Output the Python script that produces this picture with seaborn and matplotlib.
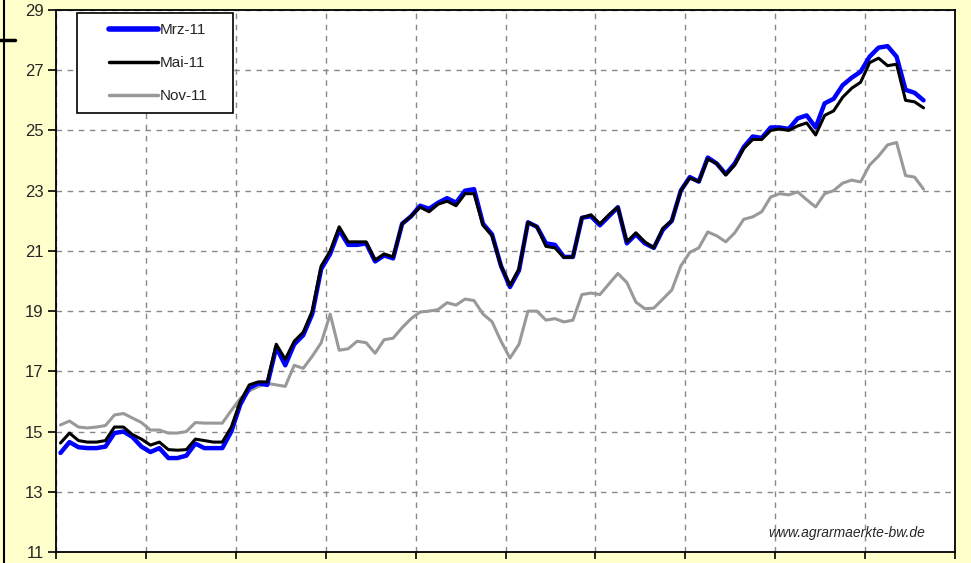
import numpy as np
import pandas as pd
import matplotlib
matplotlib.use("Agg")
import matplotlib.pyplot as plt
from matplotlib.patches import Rectangle
from matplotlib.lines import Line2D
import seaborn as sns

# Kursverlauf der drei Kontrakte, ein Wert je Rasterschritt
mrz_11 = [14.29, 14.65, 14.48, 14.45, 14.45, 14.50, 14.95, 15.00, 14.82, 14.50,
          14.32, 14.45, 14.12, 14.12, 14.20, 14.60, 14.45, 14.45, 14.45, 15.00,
          15.90, 16.45, 16.60, 16.55, 17.80, 17.20, 17.90, 18.20, 18.90, 20.40,
          20.90, 21.70, 21.20, 21.20, 21.25, 20.65, 20.85, 20.75, 21.90, 22.15,
          22.50, 22.40, 22.60, 22.75, 22.60, 23.00, 23.05, 21.90, 21.55, 20.50,
          19.80, 20.35, 21.95, 21.80, 21.25, 21.20, 20.80, 20.80, 22.10, 22.15,
          21.85, 22.15, 22.45, 21.25, 21.55, 21.25, 21.10, 21.70, 22.00, 23.00,
          23.45, 23.30, 24.10, 23.90, 23.55, 23.90, 24.45, 24.80, 24.75, 25.10,
          25.10, 25.05, 25.40, 25.50, 25.10, 25.90, 26.05, 26.50, 26.75, 26.95,
          27.45, 27.75, 27.80, 27.45, 26.35, 26.25, 26.00]

mai_11 = [14.62, 14.95, 14.70, 14.65, 14.65, 14.70, 15.15, 15.15, 14.90, 14.75,
          14.55, 14.65, 14.40, 14.38, 14.40, 14.75, 14.70, 14.65, 14.65, 15.15,
          16.00, 16.55, 16.65, 16.65, 17.90, 17.40, 18.00, 18.30, 19.00, 20.50,
          21.00, 21.80, 21.30, 21.30, 21.30, 20.70, 20.90, 20.80, 21.90, 22.15,
          22.45, 22.30, 22.55, 22.65, 22.50, 22.90, 22.90, 21.85, 21.50, 20.50,
          19.85, 20.40, 21.95, 21.80, 21.15, 21.10, 20.78, 20.80, 22.10, 22.20,
          21.90, 22.20, 22.45, 21.30, 21.60, 21.30, 21.10, 21.75, 22.00, 23.00,
          23.42, 23.30, 24.05, 23.90, 23.52, 23.85, 24.40, 24.70, 24.70, 25.00,
          25.05, 25.00, 25.15, 25.25, 24.85, 25.50, 25.65, 26.10, 26.40, 26.60,
          27.25, 27.40, 27.15, 27.20, 26.00, 25.95, 25.75]

nov_11 = [15.22, 15.35, 15.15, 15.12, 15.15, 15.20, 15.55, 15.60, 15.45, 15.30,
          15.05, 15.05, 14.95, 14.95, 15.00, 15.30, 15.28, 15.28, 15.28, 15.70,
          16.10, 16.35, 16.50, 16.60, 16.55, 16.50, 17.20, 17.10, 17.50, 17.95,
          18.90, 17.70, 17.75, 18.00, 17.95, 17.60, 18.05, 18.10, 18.45, 18.75,
          18.97, 19.00, 19.05, 19.28, 19.20, 19.40, 19.35, 18.90, 18.65, 18.00,
          17.44, 17.90, 19.00, 19.00, 18.70, 18.75, 18.64, 18.70, 19.55, 19.60,
          19.55, 19.90, 20.25, 19.95, 19.30, 19.08, 19.10, 19.40, 19.70, 20.50,
          20.95, 21.10, 21.63, 21.50, 21.30, 21.60, 22.05, 22.13, 22.30, 22.79,
          22.90, 22.86, 22.96, 22.70, 22.46, 22.90, 23.00, 23.25, 23.35, 23.29,
          23.85, 24.15, 24.52, 24.60, 23.50, 23.45, 23.05]

labels = ["Mrz-11", "Mai-11", "Nov-11"]
y_ticks = [11, 13, 15, 17, 19, 21, 23, 25, 27, 29]
quelle = "www.agrarmaerkte-bw.de"

tag = np.arange(len(mai_11)) + 0.5
df = pd.DataFrame({"tag": tag, "Mrz-11": mrz_11, "Mai-11": mai_11, "Nov-11": nov_11})

sns.set_theme(style="white")
plt.rcParams["font.family"] = ["Liberation Sans", "DejaVu Sans"]

fig = plt.figure(figsize=(9.71, 5.63), dpi=100, facecolor="#FFFFCC")
ax = fig.add_axes([56 / 971, 11 / 563, 899 / 971, 542 / 563])
ax.set_facecolor("white")

styles = {"Nov-11": ("#999999", 2.2), "Mrz-11": ("#0000FF", 3.2), "Mai-11": ("black", 2.2)}
for name in ["Nov-11", "Mrz-11", "Mai-11"]:
    col, lw = styles[name]
    sns.lineplot(data=df, x="tag", y=name, ax=ax, color=col, linewidth=lw,
                 legend=False, zorder=3)

ax.set_xlim(0, 100)
ax.set_ylim(11, 29)
ax.set_yticks(y_ticks)
ax.set_xticks(np.arange(0, 101, 10))
ax.set_xticklabels([])
ax.set_xlabel("")
ax.set_ylabel("")
ax.grid(True, color="#888888", linestyle=(0, (4, 4)), linewidth=1.0, zorder=1)
ax.tick_params(axis="y", direction="out", length=6, width=1.2, color="black",
               labelsize=12, pad=3, left=True)
ax.tick_params(axis="x", direction="out", length=5, width=1.2, color="black",
               bottom=True)
for s in ax.spines.values():
    s.set_color("black")
    s.set_linewidth(1.3)

# Legende mit eigenem Rahmen
ax.add_patch(Rectangle((21 / 899, 1 - 103 / 542), 156 / 899, 100 / 542,
                       transform=ax.transAxes, facecolor="white", edgecolor="black",
                       linewidth=1.2, zorder=4))
handles = [Line2D([], [], color="#0000FF", linewidth=4.0),
           Line2D([], [], color="black", linewidth=2.5),
           Line2D([], [], color="#999999", linewidth=2.5)]
leg = ax.legend(handles, labels, loc="upper left",
                bbox_to_anchor=(41 / 899, 1 - 1 / 542), frameon=False,
                fontsize=11, handlelength=3.2, handletextpad=0.1,
                labelspacing=1.25, borderpad=0.3)
leg.set_zorder(5)

ax.text(0.967, 0.035, quelle, transform=ax.transAxes, ha="right", va="center",
        fontsize=10, style="italic", zorder=4)

# Rand links (Reste des Rahmens)
fig.add_artist(Line2D([4 / 971, 4 / 971], [0, 1], color="black", linewidth=1.5))
fig.add_artist(Line2D([0, 15 / 971], [1 - 40 / 563, 1 - 40 / 563], color="black", linewidth=2.5))

fig.savefig("out.png", dpi=100, facecolor=fig.get_facecolor())
